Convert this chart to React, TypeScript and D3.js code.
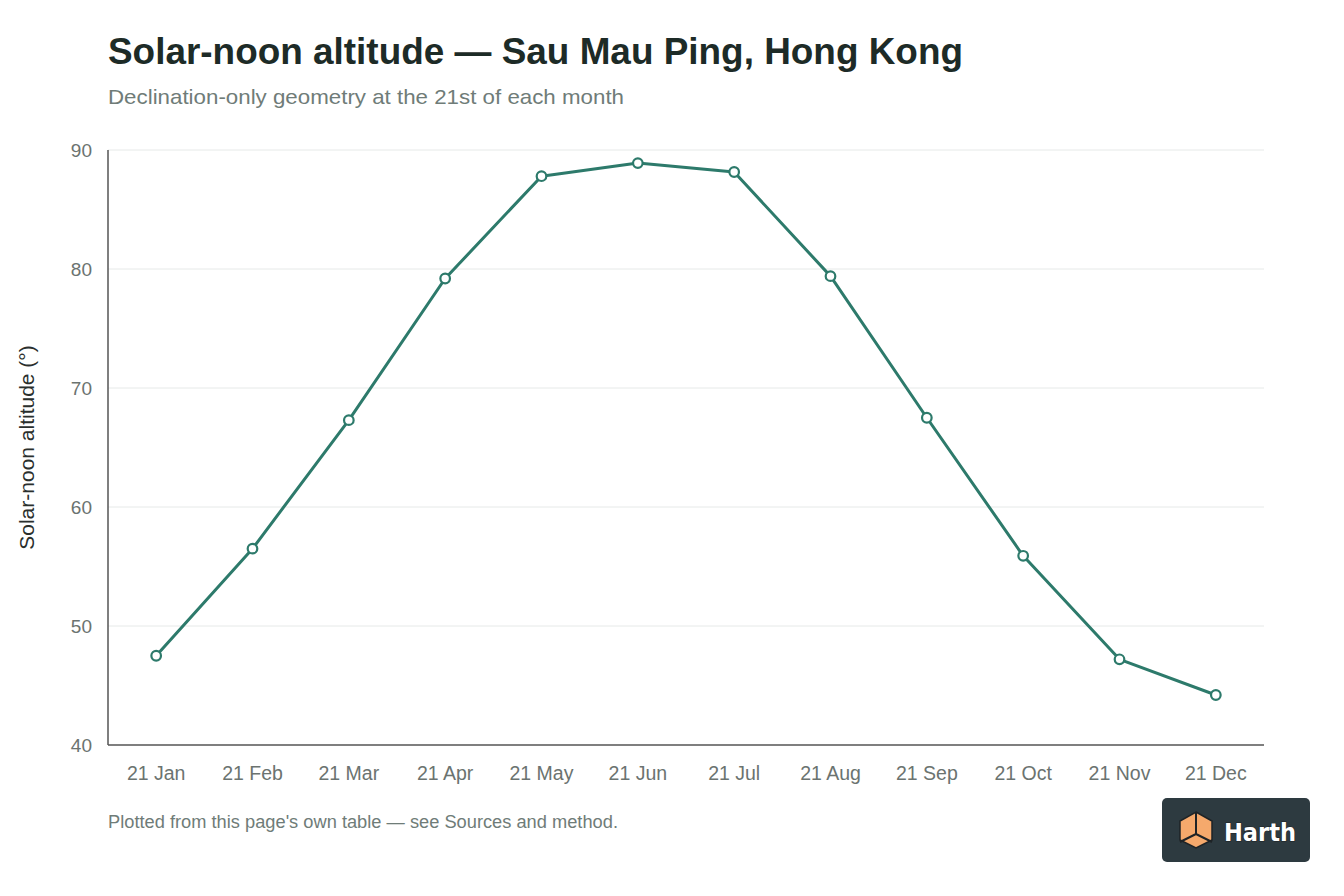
import React from "react";
import * as d3 from "d3";

const months = ["21 Jan", "21 Feb", "21 Mar", "21 Apr", "21 May", "21 Jun", "21 Jul", "21 Aug", "21 Sep", "21 Oct", "21 Nov", "21 Dec"];
const altitude = [47.5, 56.5, 67.3, 79.2, 87.8, 88.9, 88.15, 79.4, 67.5, 55.9, 47.2, 44.2];
const yTicks = [40, 50, 60, 70, 80, 90];

const W = 1344, H = 896;
const left = 108, right = 1264, top = 150, bottom = 745;
const FONT = "'Liberation Sans', Arial, Helvetica, sans-serif";
const LINE = "#2d7a6b";

export default function App() {
  const x = d3.scalePoint<string>().domain(months).range([left, right]).padding(0.5);
  const y = d3.scaleLinear().domain([40, 90]).range([bottom, top]);
  const line = d3.line<number>().x((_, i) => x(months[i])!).y((d) => y(d));

  return (
    <div style={{ position: "absolute", left: 0, top: 0 }}>
      <svg width={W} height={H} style={{ display: "block", background: "#fff" }} fontFamily={FONT}>
        <text x={108} y={64} fontSize={37} fontWeight={700} fill="#1d2b27" textLength={855} lengthAdjust="spacingAndGlyphs">Solar-noon altitude — Sau Mau Ping, Hong Kong</text>
        <text x={108} y={104} fontSize={21} fill="#6f7c78" textLength={516} lengthAdjust="spacingAndGlyphs">Declination-only geometry at the 21st of each month</text>

        {yTicks.map((t) => (
          <g key={t}>
            {t !== 40 && <line x1={left} x2={right} y1={y(t)} y2={y(t)} stroke="#e6e9e8" strokeWidth={1} />}
            <text x={92} y={y(t)} dy="0.35em" textAnchor="end" fontSize={19} fill="#6b7370">{t}</text>
          </g>
        ))}
        <line x1={left} x2={left} y1={top} y2={bottom} stroke="#555" strokeWidth={1.5} />
        <line x1={left} x2={right} y1={bottom} y2={bottom} stroke="#555" strokeWidth={1.5} />

        {months.map((m) => (
          <text key={m} x={x(m)} y={780} textAnchor="middle" fontSize={19.5} fill="#6b7370">{m}</text>
        ))}

        <text transform={`translate(34,${(top + bottom) / 2}) rotate(-90)`} textAnchor="middle" fontSize={21} fill="#2a2f2d">Solar-noon altitude (°)</text>

        <path d={line(altitude)!} fill="none" stroke={LINE} strokeWidth={3} strokeLinejoin="round" />
        {altitude.map((v, i) => (
          <circle key={i} cx={x(months[i])} cy={y(v)} r={4.8} fill="#fff" stroke={LINE} strokeWidth={2.2} />
        ))}

        <text x={108} y={828} fontSize={17.5} fill="#6f7c78" textLength={510} lengthAdjust="spacingAndGlyphs">Plotted from this page's own table — see Sources and method.</text>

        <g>
          <rect x={1162} y={798} width={148} height={64} rx={5} fill="#2d3a40" />
          <g transform="translate(1196,830)">
            <path d="M0,-18 L16,-9 L16,10 L0,18 L-16,10 L-16,-9 Z" fill="#f5a96c" stroke="#1e2326" strokeWidth={1.5} />
            <path d="M0,-18 L0,4 M0,4 L-16,12 M0,4 L16,12" stroke="#1e2326" strokeWidth={2} fill="none" />
          </g>
          <text x={1224} y={841} fontSize={24} fontWeight={700} fill="#fff" stroke="#1e2326" strokeWidth={1.2} paintOrder="stroke" fontFamily="'DejaVu Sans', sans-serif" textLength={72} lengthAdjust="spacingAndGlyphs">Harth</text>
        </g>
      </svg>
    </div>
  );
}
